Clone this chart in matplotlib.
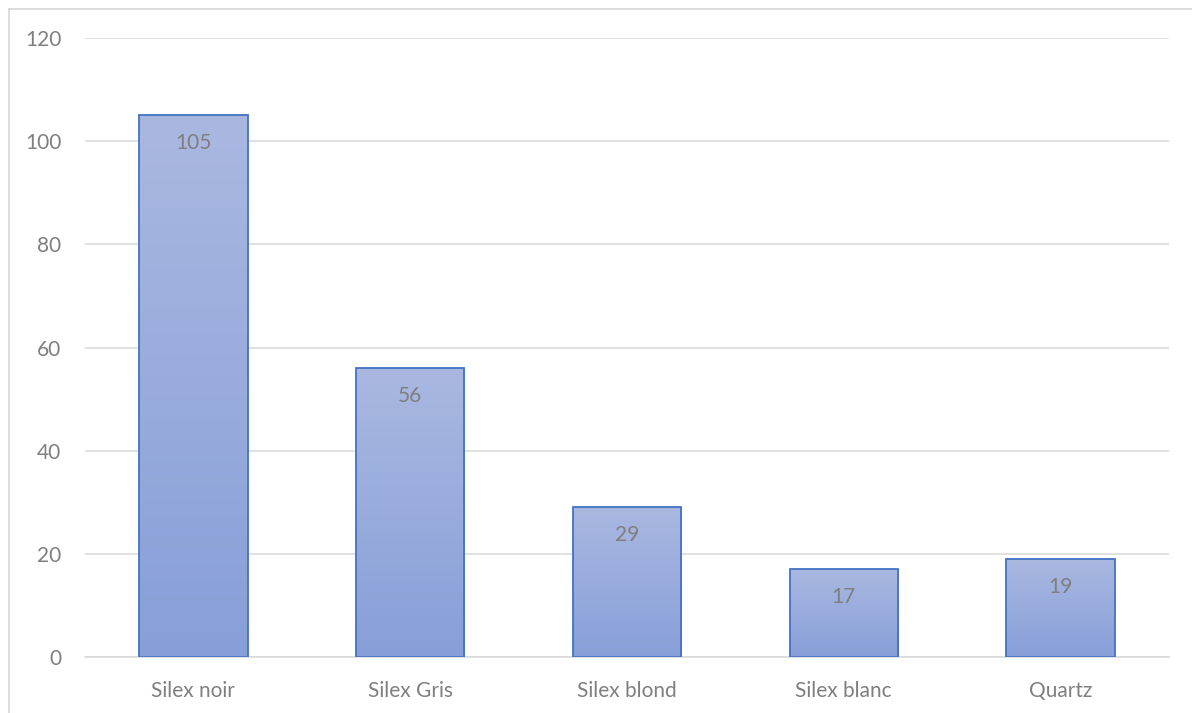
import numpy as np
import matplotlib

matplotlib.use("Agg")
import matplotlib.pyplot as plt
from matplotlib.colors import LinearSegmentedColormap
from matplotlib.lines import Line2D

categories = ["Silex noir", "Silex Gris", "Silex blond", "Silex blanc", "Quartz"]
values = [105, 56, 29, 17, 19]
yticks = [0, 20, 40, 60, 80, 100, 120]

TEXT = "#7f7f7f"
GRID = "#d9d9d9"
EDGE = "#4472c4"
TOP = "#aab8e1"
BOTTOM = "#879fd8"

plt.rcParams["font.family"] = ["Lato", "DejaVu Sans"]

fig = plt.figure(figsize=(11.92, 7.13), dpi=100)
ax = fig.add_axes([85 / 1192, 1 - 657 / 713, (1169 - 85) / 1192, (657 - 38) / 713])

x = np.arange(len(categories))
bars = ax.bar(x, values, width=0.5, color="none", edgecolor=EDGE, linewidth=1.3, zorder=3)

# vertical gradient inside each bar (light top, darker bottom)
cmap = LinearSegmentedColormap.from_list("grad", [BOTTOM, TOP])
grad = np.linspace(0, 1, 256).reshape(-1, 1)
for bar in bars:
    x0, w, h = bar.get_x(), bar.get_width(), bar.get_height()
    im = ax.imshow(grad, cmap=cmap, origin="lower", aspect="auto",
                   extent=(x0, x0 + w, 0, h), zorder=2, interpolation="bicubic")
    im.set_clip_path(bar)

for xi, v in zip(x, values):
    ax.annotate(str(v), (xi, v), xytext=(0, -28), textcoords="offset pixels",
                ha="center", va="center", fontsize=15, color=TEXT, zorder=4)

ax.set_xlim(-0.5, len(categories) - 0.5)
ax.set_ylim(0, 120)
ax.set_yticks(yticks)
ax.set_xticks(x)
ax.set_xticklabels(categories)
ax.grid(axis="y", color=GRID, linewidth=1.1, zorder=0)
ax.set_axisbelow(True)
for s in ("top", "right", "left"):
    ax.spines[s].set_visible(False)
ax.spines["bottom"].set_color(GRID)
ax.spines["bottom"].set_linewidth(1.1)
ax.tick_params(axis="both", length=0, labelsize=15, colors=TEXT)
ax.tick_params(axis="y", pad=17)
ax.tick_params(axis="x", pad=17)

# chart border (top and left edges visible)
fig.add_artist(Line2D([8.5 / 1192, 8.5 / 1192], [0, 1 - 8.5 / 713], color=GRID, lw=1.3))
fig.add_artist(Line2D([8.5 / 1192, 1], [1 - 8.5 / 713, 1 - 8.5 / 713], color=GRID, lw=1.3))

fig.savefig("out.png", dpi=100, facecolor="white")
